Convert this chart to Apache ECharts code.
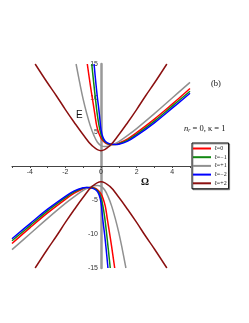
<!DOCTYPE html>
<html>
<head>
<meta charset="utf-8">
<script src="https://cdn.jsdelivr.net/npm/echarts@6/dist/echarts.min.js"></script>
<style>
html,body{margin:0;padding:0;background:#fff;}
#c{width:249px;height:323px;}
</style>
</head>
<body>
<div id="c"></div>
<script>
// Upper / lower energy branches: [Ω, E]
const l0Upper = [[-0.77,15],[-0.6,11.9],[-0.47,9.7],[-0.35,7.7],[-0.24,5.9],[-0.12,4.8],[0,4.1],[0.15,3.6],[0.3,3.3],[0.5,3.15],[0.8,3.2],[1.0,3.35],[1.5,4.0],[2,4.9],[3,6.9],[4,9.1],[5,11.4]];
const l0Lower = [[-5,-11.4],[-4,-9.1],[-3,-6.9],[-2,-4.9],[-1.5,-4.0],[-1.0,-3.35],[-0.8,-3.2],[-0.5,-3.15],[-0.3,-3.3],[-0.15,-3.6],[0,-4.1],[0.12,-4.8],[0.24,-5.9],[0.35,-7.7],[0.47,-9.7],[0.6,-11.9],[0.77,-15]];

const lm1Upper = [[-0.52,15],[-0.4,12.0],[-0.3,9.6],[-0.2,7.4],[-0.1,5.8],[0,4.7],[0.1,4.0],[0.25,3.5],[0.5,3.2],[0.8,3.15],[1.0,3.25],[1.5,3.8],[2,4.65],[3,6.6],[4,8.8],[5,11.0]];
const lm1Lower = [[-5,-11.0],[-4,-8.8],[-3,-6.6],[-2,-4.65],[-1.5,-3.8],[-1.0,-3.25],[-0.8,-3.15],[-0.5,-3.2],[-0.25,-3.5],[-0.1,-4.0],[0,-4.7],[0.1,-5.8],[0.2,-7.4],[0.3,-9.6],[0.4,-12.0],[0.52,-15]];

const lp1Upper = [[-1.4,15],[-1.2,12.3],[-1.0,9.8],[-0.8,7.7],[-0.6,5.9],[-0.4,4.5],[-0.2,3.5],[0,3.0],[0.2,2.85],[0.4,2.9],[0.7,3.2],[1.0,3.6],[1.5,4.5],[2,5.5],[3,7.7],[4,10.0],[5,12.3]];
const lp1Lower = [[-5,-12.3],[-4,-10.0],[-3,-7.7],[-2,-5.5],[-1.5,-4.5],[-1.0,-3.6],[-0.7,-3.2],[-0.4,-2.9],[-0.2,-2.85],[0,-3.0],[0.2,-3.5],[0.4,-4.5],[0.6,-5.9],[0.8,-7.7],[1.0,-9.8],[1.2,-12.3],[1.4,-15]];

const lm2Upper = [[-0.39,15],[-0.3,12.5],[-0.2,10.0],[-0.12,8.3],[-0.06,6.8],[0,5.4],[0.1,4.3],[0.25,3.6],[0.5,3.25],[0.8,3.15],[1.0,3.2],[1.5,3.65],[2,4.45],[3,6.35],[4,8.5],[5,10.7]];
const lm2Lower = [[-5,-10.7],[-4,-8.5],[-3,-6.35],[-2,-4.45],[-1.5,-3.65],[-1.0,-3.2],[-0.8,-3.15],[-0.5,-3.25],[-0.25,-3.6],[-0.1,-4.3],[0,-5.4],[0.06,-6.8],[0.12,-8.3],[0.2,-10.0],[0.3,-12.5],[0.39,-15]];

const lp2Upper = [[-3.7,15],[-3,12.2],[-2.5,10.3],[-2,8.3],[-1.5,6.4],[-1,4.6],[-0.5,3.0],[0,2.25],[0.5,3.0],[1,4.6],[1.5,6.4],[2,8.3],[2.5,10.3],[3,12.2],[3.7,15]];
const lp2Lower = [[-3.7,-15],[-3,-12.2],[-2.5,-10.3],[-2,-8.3],[-1.5,-6.4],[-1,-4.6],[-0.5,-3.0],[0,-2.3],[0.5,-3.0],[1,-4.6],[1.5,-6.4],[2,-8.3],[2.5,-10.3],[3,-12.2],[3.7,-15]];

const seriesNames = ['ℓ=0','ℓ=−1','ℓ=+1','ℓ=−2','ℓ=+2'];
const seriesColors = ['#ff0000','#118811','#909090','#0000ff','#8b1010'];
const branches = [[l0Upper,l0Lower],[lm1Upper,lm1Lower],[lp1Upper,lp1Lower],[lm2Upper,lm2Lower],[lp2Upper,lp2Lower]];
const xTicks = [-4,-2,0,2,4];
const yTicks = [-15,-10,-5,5,10,15];

const series = [];
branches.forEach((pair, i) => {
  pair.forEach(data => {
    series.push({
      name: seriesNames[i], type: 'line', data: data, smooth: 0.4,
      symbol: 'none', clip: true,
      lineStyle: {color: seriesColors[i], width: 1.5},
      itemStyle: {color: seriesColors[i]}
    });
  });
});

const gridLeft = 12, gridTop = 64, gridW = 178, gridH = 204;

const chart = echarts.init(document.getElementById('c'), null, {renderer: 'canvas'});
chart.setOption({
  animation: false,
  grid: {left: gridLeft, top: gridTop, width: gridW, height: gridH},
  xAxis: {
    type: 'value', min: -5, max: 5, interval: 1, z: 3,
    position: 'bottom', offset: -gridH / 2,
    axisLine: {onZero: false, lineStyle: {color: '#444', width: 1}},
    axisTick: {show: true, length: 2, lineStyle: {color: '#444'}},
    axisLabel: {
      fontSize: 7, color: '#333', margin: 3, fontFamily: 'Liberation Sans',
      formatter: v => xTicks.includes(v) ? String(v) : ''
    },
    splitLine: {show: false}
  },
  yAxis: {
    type: 'value', min: -15, max: 15, interval: 5, z: 3,
    position: 'left', offset: -gridW / 2,
    axisLine: {show: true, onZero: false, lineStyle: {color: '#999', width: 2.5}},
    axisTick: {show: false},
    axisLabel: {
      fontSize: 7, color: '#333', margin: 3, fontFamily: 'Liberation Sans',
      formatter: v => yTicks.includes(v) ? String(v) : ''
    },
    splitLine: {show: false}
  },
  legend: {
    orient: 'vertical', left: 192, top: 143,
    data: seriesNames,
    itemWidth: 18, itemHeight: 2, itemGap: 1.7,
    icon: 'rect',
    padding: [2, 2, 2, 1],
    backgroundColor: '#fff',
    borderColor: '#000', borderWidth: 1, borderRadius: 0,
    shadowColor: 'rgba(0,0,0,0.35)', shadowOffsetX: 1, shadowOffsetY: 1, shadowBlur: 0,
    textStyle: {fontSize: 6, lineHeight: 7, color: '#222', fontFamily: 'Liberation Serif', padding: [0,0,0,-2]},
    selectedMode: false
  },
  graphic: [
    {type: 'text', left: 211, top: 79, style: {text: '(b)', font: '8.5px "Liberation Serif"', fill: '#111'}},
    {type: 'text', left: 184, top: 124, style: {
      text: '{i|n}{s|r}{t| = 0, κ = 1}',
      rich: {
        i: {font: 'italic 8.5px "Liberation Serif"', fill: '#111'},
        s: {font: 'italic 5.5px "Liberation Serif"', fill: '#111', padding: [5,0,0,0]},
        t: {font: '8.5px "Liberation Serif"', fill: '#111'}
      }
    }},
    {type: 'text', left: 141, top: 177, style: {text: 'Ω', font: 'bold 10px "Liberation Serif"', fill: '#111'}},
    {type: 'text', left: 76, top: 110, style: {text: 'E', font: '10px "Liberation Sans"', fill: '#111'}}
  ],
  series: series
});
</script>
</body>
</html>
